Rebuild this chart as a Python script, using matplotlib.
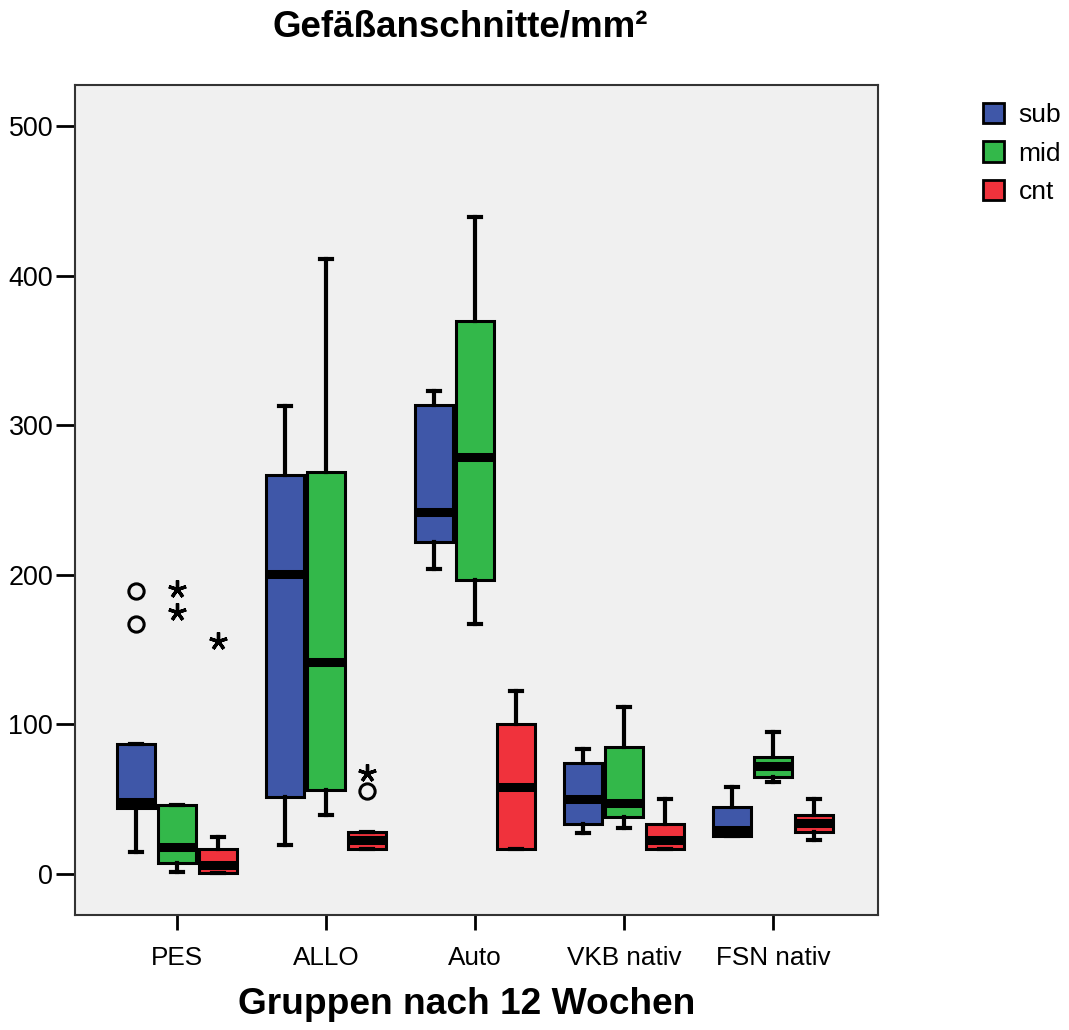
import matplotlib
matplotlib.use("Agg")
import matplotlib.pyplot as plt
from matplotlib.patches import Patch

plt.rcParams['font.family'] = ['Liberation Sans', 'DejaVu Sans']

groups = ["PES", "ALLO", "Auto", "VKB nativ", "FSN nativ"]
series = ["sub", "mid", "cnt"]
colors = ["#3F57A8", "#33B84A", "#F0323C"]

# five-number summaries per series, per group: (whislo, q1, med, q3, whishi)
sub_stats = [(14.7, 44, 48.3, 86.9, 86.9),
             (19.4, 51.5, 200.5, 266.7, 313),
             (204, 222, 242, 313.5, 323),
             (27.2, 33.4, 50.3, 74, 83.3),
             (25.6, 25.6, 29.4, 45, 58.3)]
mid_stats = [(1.3, 7.4, 18, 46, 46),
             (39.4, 56, 142, 269, 411),
             (167, 196.5, 279, 369.7, 439),
             (30.5, 37.9, 47.2, 84.7, 111.4),
             (61.3, 65, 72.2, 78, 94.7)]
cnt_stats = [(0.7, 0.7, 6, 16.7, 24.7),
             (16.7, 16.7, 22.7, 28, 28),
             (16.7, 16.7, 58.3, 100.3, 122.3),
             (16.7, 16.7, 22.7, 33.4, 50.3),
             (22.5, 27.9, 33.9, 39.4, 50.3)]

# outliers: (group index, series index, value)
circle_outliers = [(0, 0, 189), (0, 0, 167), (1, 2, 55.5)]
star_outliers = [(0, 1, 190.5), (0, 1, 175), (0, 2, 155.7), (1, 2, 67.5)]

y_ticks = [0, 100, 200, 300, 400, 500]

offsets = [-0.275, 0.0, 0.275]
box_w = 0.25

fig = plt.figure(figsize=(10.69, 10.30), dpi=100)
ax = fig.add_axes([75/1069, 1-915/1030, (878-75)/1069, (915-85)/1030])
ax.set_facecolor("#F0F0F0")

all_stats = [sub_stats, mid_stats, cnt_stats]
for si, st in enumerate(all_stats):
    bstats = []
    pos = []
    for gi, (lo, q1, med, q3, hi) in enumerate(st):
        bstats.append(dict(whislo=lo, q1=q1, med=med, q3=q3, whishi=hi, fliers=[]))
        pos.append(gi + offsets[si])
    ax.bxp(bstats, positions=pos, widths=box_w, capwidths=0.075, patch_artist=True,
           showfliers=False,
           boxprops=dict(facecolor=colors[si], edgecolor="black", linewidth=2.2),
           medianprops=dict(color="black", linewidth=6.5, solid_capstyle="butt"),
           whiskerprops=dict(color="black", linewidth=3),
           capprops=dict(color="black", linewidth=3),
           manage_ticks=False)

for gi, si, v in circle_outliers:
    ax.plot(gi + offsets[si], v, marker='o', markersize=11, markerfacecolor='none',
            markeredgecolor='black', markeredgewidth=2.2, linestyle='none')
for gi, si, v in star_outliers:
    ax.plot(gi + offsets[si], v, marker=(5, 2, 0), markersize=13,
            markeredgecolor='black', markeredgewidth=2.4, linestyle='none')

ax.set_xlim(-0.685, 4.705)
ax.set_ylim(-27.4, 527.4)
ax.set_xticks(range(len(groups)))
ax.set_xticklabels(groups, fontsize=18.8)
ax.set_yticks(y_ticks)
ax.set_yticklabels([str(t) for t in y_ticks], fontsize=19.4)
ax.tick_params(axis='y', direction='out', length=13.7, width=2, pad=2)
ax.tick_params(axis='x', direction='out', length=11, width=2, pad=11)
for sp in ax.spines.values():
    sp.set_linewidth(1.5)
    sp.set_color("#333333")

fig.text(460/1069, 1-27/1030, "Gefäßanschnitte/mm²", fontsize=26.5, fontweight='bold',
         ha='center', va='center')
fig.text(467/1069, 1-1005/1030, "Gruppen nach 12 Wochen", fontsize=26.7, fontweight='bold',
         ha='center', va='center')

handles = [Patch(facecolor=c, edgecolor='black', linewidth=2) for c in colors]
fig.legend(handles, series, loc='upper left', bbox_to_anchor=(972/1069, 1-92/1030),
           frameon=False, fontsize=19, handlelength=0.83, handleheight=0.8,
           handletextpad=0.53, labelspacing=0.55, borderaxespad=0)

fig.savefig("out.png", dpi=100)
